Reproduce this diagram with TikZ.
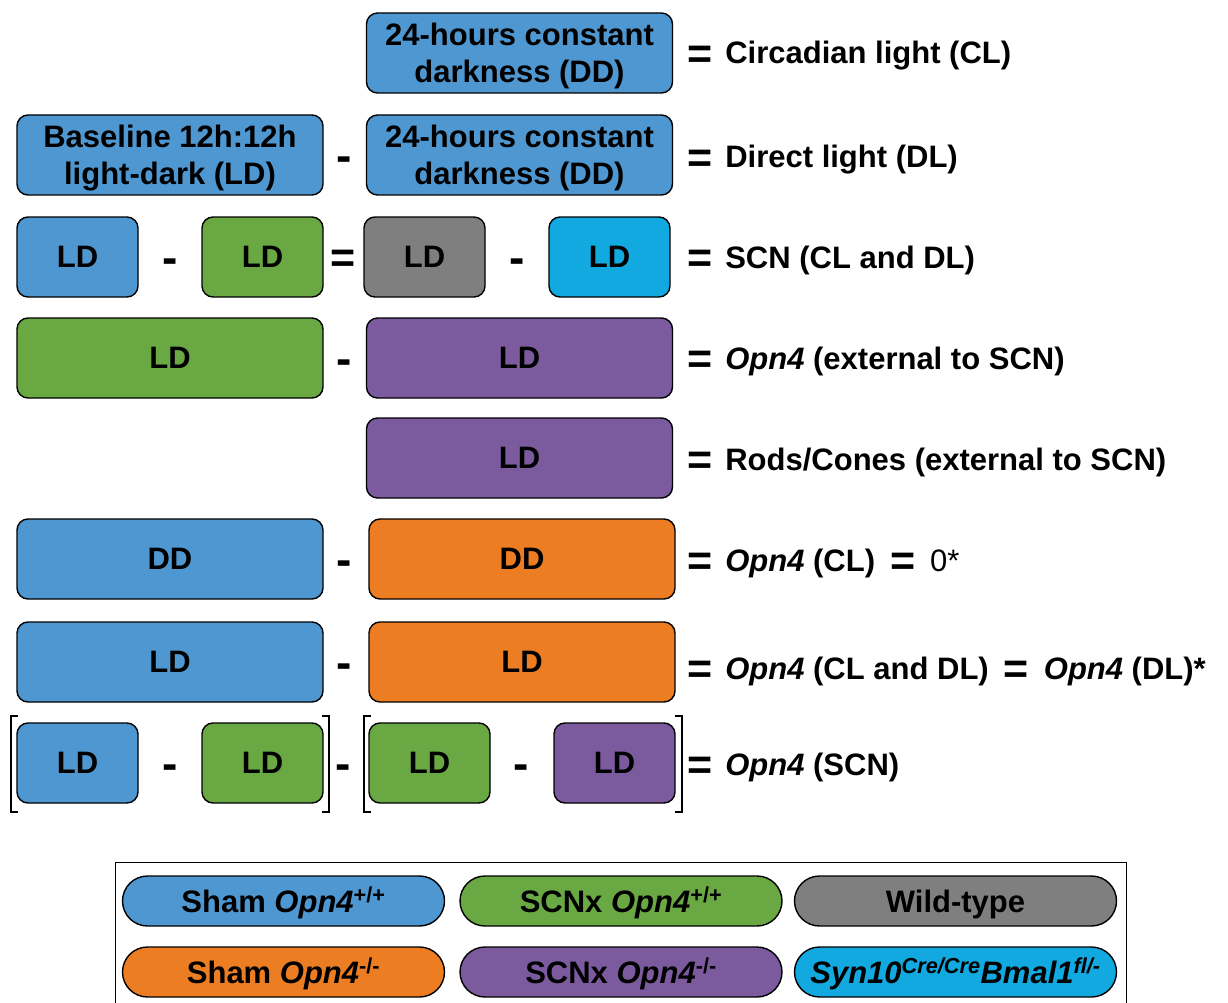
\documentclass[tikz,border=0pt]{standalone}
\usepackage{fontspec}
\setmainfont{Liberation Sans}
\definecolor{cblue}{HTML}{4F97D1}
\definecolor{cgreen}{HTML}{6AA844}
\definecolor{cgray}{HTML}{7F7F7F}
\definecolor{ccyan}{HTML}{12A8E0}
\definecolor{cpurple}{HTML}{7B5B9E}
\definecolor{corange}{HTML}{ED7D22}
\newcommand{\bigeq}{\raisebox{-4.6pt}{\fontsize{43}{31}\selectfont =}}
\newcommand{\gapeq}{\hspace{15pt}\bigeq\hspace{15pt}}
\begin{document}
\begin{tikzpicture}[x=1pt,y=-1pt,
  box/.style={draw=black, line width=1.4pt, rounded corners=11pt, minimum height=80pt, inner sep=0pt,
    font=\fontsize{31}{37}\selectfont\bfseries, align=center, text=black, text depth=0pt},
  wide/.style={box, minimum width=306pt},
  narrow/.style={box, minimum width=121pt},
  minus/.style={font=\fontsize{46}{46}\selectfont\bfseries, inner sep=0pt},
  eqop/.style={font=\fontsize{43}{43}\selectfont\bfseries, inner sep=0pt},
  res/.style={anchor=west, font=\fontsize{31}{31}\selectfont\bfseries, inner sep=0pt, text height=22pt, text depth=0pt},
  pill/.style={draw=black, line width=1.4pt, rounded corners=25pt, minimum height=50pt, minimum width=322pt,
    inner sep=0pt, font=\fontsize{31}{31}\selectfont\bfseries, text height=22pt, text depth=0pt},
  brk/.style={line width=2.6pt}]
\clip (0,0) rectangle (1228,1003);
% Row 1
\node[wide, fill=cblue] (dd1) at (519.5,53) {24-hours constant\\darkness (DD)};
\node[res] (t1) at (687,53) {\bigeq\hspace{13pt}Circadian light (CL)};
% Row 2
\node[wide, fill=cblue] (ld2) at (170,155) {Baseline 12h:12h\\light-dark (LD)};
\node[minus] (m2) at (344,164.5) {-};
\node[wide, fill=cblue] (dd2) at (519.5,155) {24-hours constant\\darkness (DD)};
\node[res] (t2) at (687,157) {\bigeq\hspace{13pt}Direct light (DL)};
% Row 3
\node[narrow, fill=cblue] (a3) at (77.5,257) {LD};
\node[minus] (m3a) at (170,266.5) {-};
\node[narrow, fill=cgreen] (b3) at (262.5,257) {LD};
\node[eqop] (e3) at (343,261.8) {=};
\node[narrow, fill=cgray] (c3) at (424.5,257) {LD};
\node[minus] (m3b) at (517,266.5) {-};
\node[narrow, fill=ccyan] (d3) at (609.5,257) {LD};
\node[res] (t3) at (687,257) {\bigeq\hspace{13pt}SCN (CL and DL)};
% Row 4
\node[wide, fill=cgreen] (a4) at (170,358) {LD};
\node[minus] (m4) at (344,367.5) {-};
\node[wide, fill=cpurple] (b4) at (519.5,358) {LD};
\node[res] (t4) at (687,358) {\bigeq\hspace{13pt}\textit{Opn4} (external to SCN)};
% Row 5
\node[wide, fill=cpurple] (b5) at (519.5,458) {LD};
\node[res] (t5) at (687,459) {\bigeq\hspace{13pt}Rods/Cones (external to SCN)};
% Row 6
\node[wide, fill=cblue] (a6) at (170,559) {DD};
\node[minus] (m6) at (344,568.5) {-};
\node[wide, fill=corange] (b6) at (522,559) {DD};
\node[res] (t6) at (687,560) {\bigeq\hspace{13pt}\textit{Opn4} (CL)\gapeq{\mdseries 0*}};
% Row 7
\node[wide, fill=cblue] (a7) at (170,662) {LD};
\node[minus] (m7) at (344,671.5) {-};
\node[wide, fill=corange] (b7) at (522,662) {LD};
\node[res] (t7) at (687,668) {\bigeq\hspace{13pt}\textit{Opn4} (CL and DL)\gapeq\textit{Opn4} (DL)*};
% Row 8
\node[narrow, fill=cblue] (a8) at (77.5,763) {LD};
\node[minus] (m8a) at (170,772.5) {-};
\node[narrow, fill=cgreen] (b8) at (262.5,763) {LD};
\node[minus] (m8b) at (343,772.5) {-};
\node[narrow, fill=cgreen] (c8) at (429.5,763) {LD};
\node[minus] (m8c) at (521,772.5) {-};
\node[narrow, fill=cpurple] (d8) at (614.5,763) {LD};
\node[res] (t8) at (687,764) {\bigeq\hspace{13pt}\textit{Opn4} (SCN)};
\draw[brk] (18,716) -- (11,716) -- (11,812) -- (18,812);
\draw[brk] (322,716) -- (329,716) -- (329,812) -- (322,812);
\draw[brk] (371,716) -- (364,716) -- (364,812) -- (371,812);
\draw[brk] (675,716) -- (682,716) -- (682,812) -- (675,812);
% Legend
\node[draw=black, line width=1pt, minimum width=1011pt, minimum height=160pt, anchor=north west, inner sep=0pt] (legend) at (115,862) {};
\node[pill, fill=cblue] (p1) at (283.5,901) {Sham \textit{Opn4}\textsuperscript{+/+}};
\node[pill, fill=cgreen] (p2) at (621,901) {SCNx \textit{Opn4}\textsuperscript{+/+}};
\node[pill, fill=cgray] (p3) at (955.5,901) {Wild-type};
\node[pill, fill=corange] (p4) at (283.5,972) {Sham \textit{Opn4}\textsuperscript{-/-}};
\node[pill, fill=cpurple] (p5) at (621,972) {SCNx \textit{Opn4}\textsuperscript{-/-}};
\node[pill, fill=ccyan] (p6) at (955.5,972) {\textit{Syn10\textsuperscript{Cre/Cre}Bmal1\textsuperscript{fl/-}}};
\end{tikzpicture}
\end{document}
